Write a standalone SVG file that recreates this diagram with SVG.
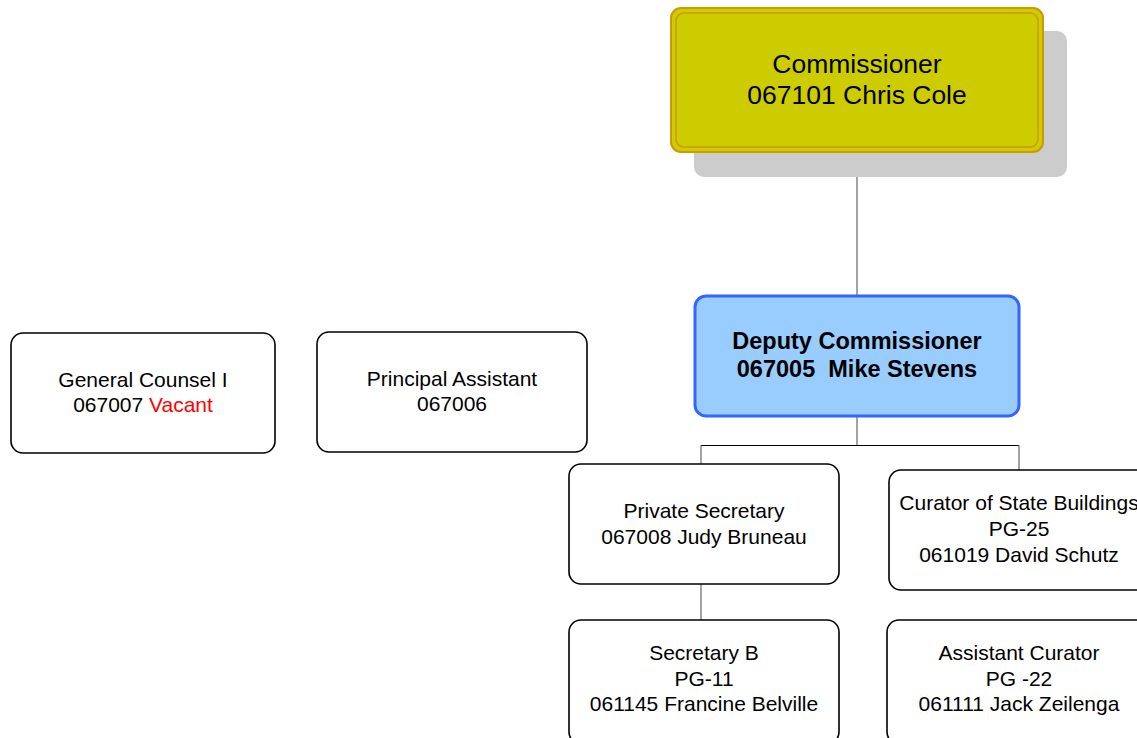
<svg xmlns="http://www.w3.org/2000/svg" width="1137" height="738" viewBox="0 0 1137 738">
<style>
text { font-family: "Liberation Sans", Arial, sans-serif; text-anchor: middle; fill: #000; }
.t { font-size: 21px; }
.box { fill: #fff; stroke: #000; stroke-width: 1.6; }
.conn { stroke: #666; stroke-width: 1.2; fill: none; }
.hconn { stroke: #000; stroke-width: 1; fill: none; }
</style>
<rect width="1137" height="738" fill="#fff"/>
<g id="connectors">
<line class="conn" x1="857" y1="152" x2="857" y2="296"/>
<line class="conn" x1="857" y1="417" x2="857" y2="445"/>
<line class="hconn" x1="701" y1="445.5" x2="1019" y2="445.5"/>
<line class="conn" x1="701" y1="445" x2="701" y2="465"/>
<line class="conn" x1="1019" y1="445" x2="1019" y2="471"/>
<line class="conn" x1="701" y1="584" x2="701" y2="621"/>
</g>
<g id="commissioner">
<rect x="694" y="31" width="373" height="146" rx="10" fill="#cccccc"/>
<rect x="671" y="8" width="372" height="144" rx="10" fill="#cccc00" stroke="#cc9900" stroke-width="2"/>
<rect x="676" y="13" width="362" height="134" rx="8" fill="none" stroke="#cc9900" stroke-width="1.5"/>
<text x="857" y="73" font-size="26.5">Commissioner</text>
<text x="857" y="104" font-size="26.5">067101 Chris Cole</text>
</g>
<g id="deputy">
<rect x="695" y="296" width="324" height="120" rx="11" fill="#99ccff" stroke="#3366ff" stroke-width="3"/>
<text x="857" y="349" font-size="23.5" font-weight="bold">Deputy Commissioner</text>
<text x="857" y="377" font-size="23.5" font-weight="bold" xml:space="preserve">067005  Mike Stevens</text>
</g>
<g id="general-counsel">
<rect class="box" x="11" y="333" width="264" height="120" rx="12"/>
<text class="t" x="143" y="387">General Counsel I</text>
<text class="t" x="143" y="412">067007 <tspan fill="#ff0000">Vacant</tspan></text>
</g>
<g id="principal-assistant">
<rect class="box" x="317" y="332" width="270" height="120" rx="12"/>
<text class="t" x="452" y="386">Principal Assistant</text>
<text class="t" x="452" y="411">067006</text>
</g>
<g id="private-secretary">
<rect class="box" x="569" y="464" width="270" height="120" rx="12"/>
<text class="t" x="704" y="518">Private Secretary</text>
<text class="t" x="704" y="544">067008 Judy Bruneau</text>
</g>
<g id="curator">
<rect class="box" x="889" y="470" width="262" height="120" rx="12"/>
<text class="t" x="1019" y="510">Curator of State Buildings</text>
<text class="t" x="1019" y="536">PG-25</text>
<text class="t" x="1019" y="562">061019 David Schutz</text>
</g>
<g id="secretary-b">
<rect class="box" x="569" y="620" width="270" height="124" rx="12"/>
<text class="t" x="704" y="660">Secretary B</text>
<text class="t" x="704" y="686">PG-11</text>
<text class="t" x="704" y="711">061145 Francine Belville</text>
</g>
<g id="assistant-curator">
<rect class="box" x="887" y="620" width="264" height="124" rx="12"/>
<text class="t" x="1019" y="660">Assistant Curator</text>
<text class="t" x="1019" y="686">PG -22</text>
<text class="t" x="1019" y="711">061111 Jack Zeilenga</text>
</g>
</svg>
